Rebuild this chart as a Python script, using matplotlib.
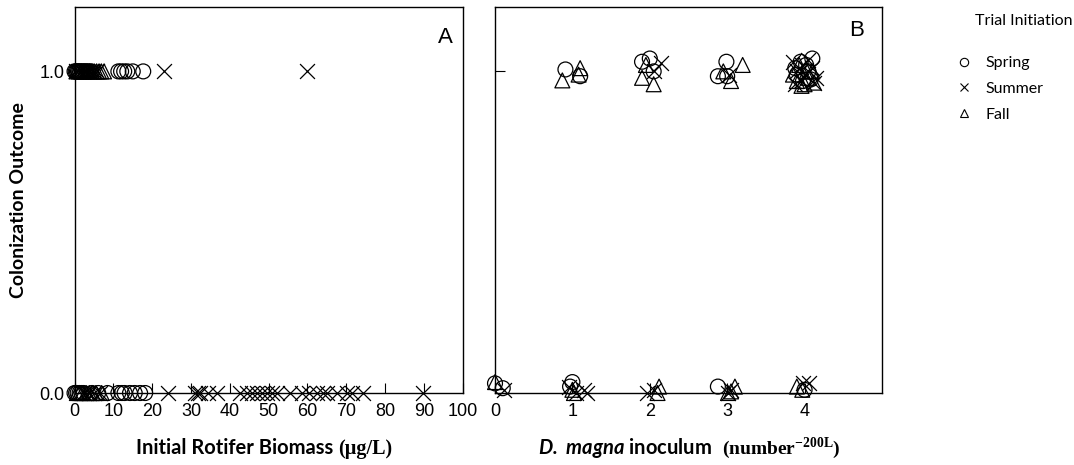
import numpy as np
import matplotlib
matplotlib.use("Agg")
import matplotlib.pyplot as plt
from matplotlib.lines import Line2D

plt.rcParams['font.family'] = ['Liberation Sans', 'DejaVu Sans']
plt.rcParams['mathtext.fontset'] = 'custom'
plt.rcParams['mathtext.bf'] = 'Liberation Serif:bold'
plt.rcParams['mathtext.bfit'] = 'Lato:italic:bold'
plt.rcParams['mathtext.rm'] = 'Liberation Serif'

# ---- Panel A: initial rotifer biomass (ug/L) vs outcome ----
spring_a_col = [0.0, 0.3, 0.6, 0.9, 1.2, 1.5, 1.9, 2.3, 2.7, 3.1, 3.6, 4.2,
                11.3, 12.0, 12.8, 13.6, 15.0, 17.7]
summer_a_col = [0.4, 1.0, 1.7, 2.4, 3.0, 3.7, 4.4, 5.0, 5.7, 23.1, 60.0]
fall_a_col = [0.5, 1.1, 1.8, 2.5, 3.2, 3.9, 4.5, 5.1, 5.7, 6.3, 6.9, 7.6]

spring_a_fail = [0.0, 0.4, 0.8, 1.3, 1.8, 2.3, 4.5, 6.1, 8.5,
                 11.3, 12.2, 12.9, 14.3, 15.5, 16.9, 18.2]
summer_a_fail = [2.5, 3.8, 5.0, 6.5, 24.0, 31.1, 31.8, 32.3, 34.5, 36.6, 42.7,
                 44.4, 45.7, 47.0, 48.2, 49.5, 50.8, 52.1, 55.5, 58.5, 60.3,
                 62.4, 64.1, 65.0, 67.6, 70.2, 71.4, 74.4, 89.9]
fall_a_fail = [0.6, 1.3, 2.0, 3.0, 3.8, 4.6, 5.5, 7.0]

# ---- Panel B: D. magna inoculum vs outcome (jittered) ----
spring_b_x = [0.91, 1.10, 1.90, 2.00, 2.05, 2.99, 2.88, 3.00, 3.95, 4.05, 4.10, 3.90,
              3.98, 4.02, 3.88, 4.08,
              0.00, 0.10, 1.00, 0.97, 2.88, 4.00]
spring_b_y = [1.006, 0.985, 1.03, 1.04, 1.00, 1.03, 0.985, 0.985, 1.03, 1.00, 1.04, 0.99,
              0.97, 1.02, 1.01, 0.975,
              0.03, 0.015, 0.034, 0.02, 0.02, 0.01]
summer_b_x = [2.14, 2.05, 3.02, 3.85, 3.95, 4.10, 4.00, 3.90, 4.15, 3.88, 4.05, 3.97, 4.12,
              0.12, 0.95, 1.05, 1.15, 1.19, 1.97, 2.05, 3.01, 3.05, 3.98, 4.06]
summer_b_y = [1.026, 1.00, 0.99, 1.03, 0.97, 1.01, 0.99, 1.00, 0.98, 0.96, 1.035, 1.02, 0.965,
              0.01, 0.02, 0.00, 0.01, 0.00, 0.00, 0.01, 0.00, 0.01, 0.03, 0.03]
fall_b_x = [0.87, 1.10, 1.08, 1.90, 2.05, 1.95, 3.20, 3.05, 2.95, 3.90, 4.00, 4.05, 4.10, 3.85,
            3.93, 4.03, 4.12, 3.96,
            0.00, 1.02, 1.00, 2.12, 2.10, 3.01, 3.10, 3.05, 3.90, 3.97]
fall_b_y = [0.972, 1.01, 0.99, 0.98, 0.96, 1.02, 1.02, 0.97, 1.00, 0.97, 0.96, 0.98, 1.00, 0.99,
            1.02, 1.00, 0.965, 0.955,
            0.034, 0.00, 0.01, 0.02, 0.00, 0.00, 0.02, 0.005, 0.02, 0.01]

seasons = ['Spring', 'Summer', 'Fall']
markers = ['o', 'x', '^']

W, H = 1074, 465
fig = plt.figure(figsize=(W / 100, H / 100), dpi=100)
ax_a = fig.add_axes([0.0694, 0.1548, 0.3613, 0.830])
ax_b = fig.add_axes([0.4609, 0.1548, 0.3603, 0.830])

ms = 115
def pts(ax, x, y, m):
    if m == 'x':
        ax.scatter(x, y, s=ms, marker=m, color='black', linewidths=0.9, clip_on=False, zorder=3)
    else:
        ax.scatter(x, y, s=ms, marker=m, facecolors='none', edgecolors='black',
                   linewidths=0.9, clip_on=False, zorder=3)

a_col = [spring_a_col, summer_a_col, fall_a_col]
a_fail = [spring_a_fail, summer_a_fail, fall_a_fail]
for i, m in enumerate(markers):
    pts(ax_a, a_col[i], [1.0] * len(a_col[i]), m)
    pts(ax_a, a_fail[i], [0.0] * len(a_fail[i]), m)

b_x = [spring_b_x, summer_b_x, fall_b_x]
b_y = [spring_b_y, summer_b_y, fall_b_y]
for i, m in enumerate(markers):
    pts(ax_b, b_x[i], b_y[i], m)

ax_a.set_xlim(0, 100)
ax_a.set_ylim(0, 1.2)
ax_a.set_xticks(np.arange(0, 101, 10))
ax_a.set_yticks([0.0, 1.0])
ax_a.set_yticklabels(['0.0', '1.0'])
ax_a.tick_params(direction='in', length=7, labelsize=13)
ax_a.tick_params(axis='x', pad=7)
ax_a.tick_params(axis='y', pad=7)

ax_b.set_xlim(0, 5)
ax_b.set_ylim(0, 1.2)
ax_b.set_xticks([0, 1, 2, 3, 4])
ax_b.set_yticks([0.0, 1.0])
ax_b.set_yticklabels([])
ax_b.tick_params(direction='in', length=7, labelsize=13)
ax_b.tick_params(axis='x', pad=7)

for ax in (ax_a, ax_b):
    for s in ax.spines.values():
        s.set_linewidth(1.0)

ax_a.text(0.955, 0.92, 'A', transform=ax_a.transAxes, fontsize=16, ha='center', va='center')
ax_b.text(0.935, 0.94, 'B', transform=ax_b.transAxes, fontsize=16, ha='center', va='center')

# axis titles: sans part + serif part, as in the original
ax_a.set_ylabel('Colonization Outcome', fontfamily='Lato', fontweight='bold', fontsize=14,
                labelpad=9)
base = 1 - 454 / H
fig.text(333 / W, base, 'Initial Rotifer Biomass', fontfamily='Lato', fontweight='bold',
         fontsize=14.5, ha='right', va='baseline')
fig.text(338 / W, base, '(\u00b5g/L)', fontfamily='Liberation Serif', fontweight='bold',
         fontsize=14.5, ha='left', va='baseline')
fig.text(712 / W, base, r'$\mathbfit{D.}$ $\mathbfit{magna}$ inoculum', fontfamily='Lato',
         fontweight='bold', fontsize=14.5, ha='right', va='baseline')
fig.text(722 / W, base, r'(number$^{\mathbf{-200L}}$)', fontfamily='Liberation Serif',
         fontweight='bold', fontsize=14, ha='left', va='baseline')

fig.text(975 / W, 0.955, 'Trial Initiation', fontfamily='Lato', fontsize=11.5,
         ha='left', va='center')
handles = [Line2D([], [], linestyle='none', marker=m, markersize=6, markerfacecolor='none',
                  markeredgecolor='black', color='black', markeredgewidth=0.8) for m in markers]
fig.legend(handles, seasons, loc='upper left', bbox_to_anchor=(0.873, 0.91), frameon=False,
           prop={'family': 'Lato', 'size': 11.5}, handletextpad=0.6, labelspacing=0.72,
           handlelength=1.5)

fig.savefig('out.png', dpi=100)
